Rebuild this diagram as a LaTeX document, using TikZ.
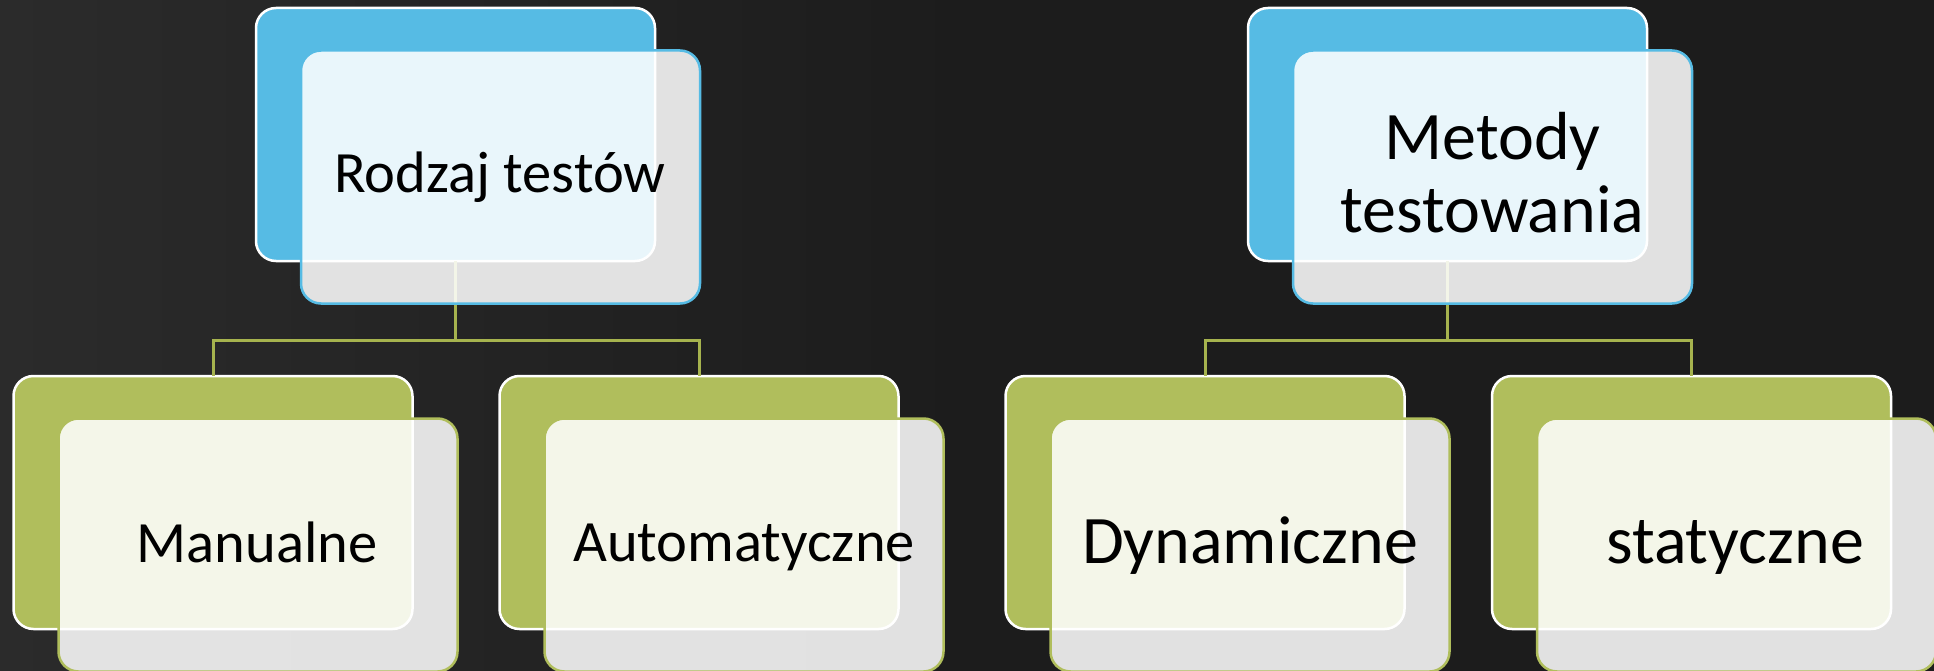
\documentclass[tikz,border=0pt]{standalone}
\usepackage{fontspec}
\setmainfont{Carlito}
\usetikzlibrary{calc}

\definecolor{board}{HTML}{1C1C1C}
\definecolor{boardedge}{HTML}{2B2B2B}
\definecolor{skyblue}{HTML}{56BBE4}
\definecolor{leafgreen}{HTML}{B0BE5C}
\definecolor{linkline}{HTML}{A6B34E}

\tikzset{
  backbox/.style={draw=white, line width=2.5pt, rounded corners=20pt,
    minimum width=399pt, minimum height=253pt, inner sep=0pt, outer sep=0pt},
  frontbox/.style={fill=white, fill opacity=0.87, line width=2.5pt,
    rounded corners=20pt, minimum width=399pt, minimum height=253pt,
    inner sep=0pt, outer sep=0pt},
  conn/.style={draw=linkline, line width=3pt},
  lbl/.style={anchor=base, inner sep=0pt, text=black},
  smalltext/.style={font=\fontsize{58.5}{68}\selectfont},
  bigtext/.style={font=\fontsize{68}{72}\selectfont},
}

\begin{document}
\begin{tikzpicture}[x=1pt, y=-1pt]
  % chalkboard
  \useasboundingbox (0,0) rectangle (1934,671);
  \shade[left color=boardedge, right color=board, middle color=board]
    (0,0) rectangle (1934,671);

  % joints of the two trees
  \coordinate (jl) at (455.5,340);
  \coordinate (jr) at (1447.5,340);

  % back cards
  \node[backbox, fill=skyblue]   (rb) at (455.5,134.5) {};
  \node[backbox, fill=skyblue]   (mb) at (1447.5,134.5) {};
  \node[backbox, fill=leafgreen] (ab1) at (213,502.5) {};
  \node[backbox, fill=leafgreen] (ab2) at (699,502.5) {};
  \node[backbox, fill=leafgreen] (ab3) at (1205,502.5) {};
  \node[backbox, fill=leafgreen] (ab4) at (1691.5,502.5) {};

  % connectors
  \draw[conn] (rb.south) -- (jl);
  \draw[conn] (ab1.north) |- (jl) -| (ab2.north);
  \draw[conn] (mb.south) -- (jr);
  \draw[conn] (ab3.north) |- (jr) -| (ab4.north);

  % front cards
  \node[frontbox, draw=skyblue]   (rf) at ($(rb)+(45,42.5)$) {};
  \node[frontbox, draw=skyblue]   (mf) at ($(mb)+(45,42.5)$) {};
  \node[frontbox, draw=leafgreen] (af1) at ($(ab1)+(45,42.5)$) {};
  \node[frontbox, draw=leafgreen] (af2) at ($(ab2)+(45,42.5)$) {};
  \node[frontbox, draw=leafgreen] (af3) at ($(ab3)+(45,42.5)$) {};
  \node[frontbox, draw=leafgreen] (af4) at ($(ab4)+(45,42.5)$) {};

  % labels
  \node[lbl, smalltext] (t1) at (500,193) {Rodzaj testów};
  \node[lbl, bigtext]   (t2) at (1492.5,160) {Metody};
  \node[lbl, bigtext]   (t3) at (1492.5,232) {testowania};
  \node[lbl, smalltext] (t4) at (257,562) {Manualne};
  \node[lbl, smalltext] (t5) at (744,561) {Automatyczne};
  \node[lbl, bigtext]   (t6) at (1250,563) {Dynamiczne};
  \node[lbl, bigtext]   (t7) at (1735,563) {statyczne};
\end{tikzpicture}
\end{document}
